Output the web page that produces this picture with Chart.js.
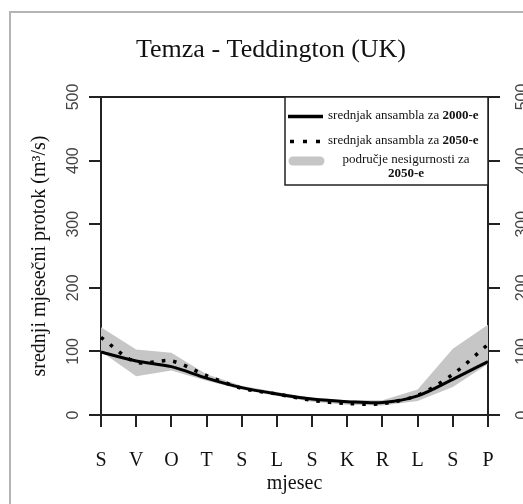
<!DOCTYPE html>
<html>
<head>
<meta charset="utf-8">
<script src="https://cdn.jsdelivr.net/npm/chart.js@4.4.0/dist/chart.umd.min.js"></script>
<style>
  html, body { margin: 0; padding: 0; background: #fff; }
</style>
</head>
<body>
<canvas id="chart" width="523" height="504"></canvas>
<script>
// mjeseci hidrološke godine (rujan - kolovoz)
const months = ['S', 'V', 'O', 'T', 'S', 'L', 'S', 'K', 'R', 'L', 'S', 'P'];
const mean2000 = [99, 85, 76, 58, 43, 33, 25, 21, 19.5, 30, 56, 84];
const mean2050 = [122, 83, 85, 62, 42, 33, 23, 18, 18, 31, 64, 111];
const bandUpper = [138, 103, 98, 64, 46, 36, 27, 23, 23, 40, 104, 142];
const bandLower = [100, 61, 70, 54, 40, 30, 21, 16, 15, 22, 44, 80];
const yMax = 500;
const yStep = 100;
const chartTitle = 'Temza - Teddington (UK)';

const serif = '"Liberation Serif", "Times New Roman", serif';
const sans = '"Liberation Sans", Arial, sans-serif';

// sivi okvir slike, naslov i gornja linija grafa
const framePlugin = {
  id: 'frame',
  beforeDraw(chart) {
    const ctx = chart.ctx;
    ctx.save();
    ctx.strokeStyle = '#b4b4b4';
    ctx.lineWidth = 2;
    ctx.beginPath();
    ctx.moveTo(10, chart.height);
    ctx.lineTo(10, 12);
    ctx.lineTo(chart.width, 12);
    ctx.stroke();

    ctx.fillStyle = '#111';
    ctx.font = '26px ' + serif;
    ctx.textAlign = 'center';
    ctx.textBaseline = 'alphabetic';
    ctx.fillText(chartTitle, 271, 57);
    ctx.restore();
  },
  afterDatasetsDraw(chart) {
    const {ctx, chartArea} = chart;
    ctx.save();
    ctx.strokeStyle = '#222';
    ctx.lineWidth = 2;
    ctx.beginPath();
    ctx.moveTo(chartArea.left, chartArea.top);
    ctx.lineTo(chartArea.right, chartArea.top);
    ctx.stroke();
    ctx.restore();
  }
};

// legenda u gornjem desnom kutu
const legendPlugin = {
  id: 'legendBox',
  afterDraw(chart) {
    const {ctx, chartArea} = chart;
    const left = 285, top = chartArea.top, right = chartArea.right, bottom = 185;
    ctx.save();
    ctx.fillStyle = '#fff';
    ctx.fillRect(left, top, right - left, bottom - top);
    ctx.strokeStyle = '#222';
    ctx.lineWidth = 1.5;
    ctx.strokeRect(left, top, right - left, bottom - top);

    ctx.strokeStyle = '#000';
    ctx.lineWidth = 3.5;
    ctx.beginPath();
    ctx.moveTo(288, 116.5);
    ctx.lineTo(323, 116.5);
    ctx.stroke();

    ctx.setLineDash([4, 9]);
    ctx.beginPath();
    ctx.moveTo(290, 141.5);
    ctx.lineTo(323, 141.5);
    ctx.stroke();
    ctx.setLineDash([]);

    ctx.strokeStyle = '#c6c6c6';
    ctx.lineWidth = 9;
    ctx.lineCap = 'round';
    ctx.beginPath();
    ctx.moveTo(293, 161);
    ctx.lineTo(320, 161);
    ctx.stroke();

    ctx.fillStyle = '#111';
    ctx.textBaseline = 'middle';
    const rows = [['srednjak ansambla za ', '2000-e', 115.5], ['srednjak ansambla za ', '2050-e', 140.5]];
    rows.forEach(([txt, bold, y]) => {
      ctx.font = '13px ' + serif;
      ctx.textAlign = 'left';
      ctx.fillText(txt, 328, y);
      const w = ctx.measureText(txt).width;
      ctx.font = 'bold 13px ' + serif;
      ctx.fillText(bold, 328 + w, y);
    });
    ctx.textAlign = 'center';
    ctx.font = '13px ' + serif;
    ctx.fillText('područje nesigurnosti za', 406, 159.5);
    ctx.font = 'bold 13px ' + serif;
    ctx.fillText('2050-e', 406, 173.5);
    ctx.restore();
  }
};

const yAxis = (position, width, pad) => ({
  position: position,
  min: 0,
  max: yMax,
  afterFit(scale) { scale.width = width; },
  ticks: {
    stepSize: yStep,
    minRotation: 90,
    maxRotation: 90,
    crossAlign: 'center',
    padding: pad,
    color: '#444',
    font: { family: sans, size: 16 }
  },
  grid: { drawOnChartArea: false, drawTicks: true, tickLength: 12, color: '#222', lineWidth: 2 },
  border: { display: true, color: '#222', width: 2 }
});

new Chart(document.getElementById('chart'), {
  type: 'line',
  data: {
    labels: months,
    datasets: [
      {
        label: 'srednjak ansambla za 2000-e',
        data: mean2000,
        borderColor: '#000',
        borderWidth: 3,
        pointRadius: 0,
        tension: 0.3,
        fill: false
      },
      {
        label: 'srednjak ansambla za 2050-e',
        data: mean2050,
        borderColor: '#000',
        borderWidth: 3.5,
        borderDash: [3.5, 8],
        pointRadius: 0,
        tension: 0.3,
        fill: false
      },
      {
        label: 'područje nesigurnosti za 2050-e',
        data: bandUpper,
        borderWidth: 0,
        borderColor: 'rgba(0,0,0,0)',
        backgroundColor: '#c6c6c6',
        pointRadius: 0,
        tension: 0,
        fill: '+1'
      },
      {
        label: 'donja granica',
        data: bandLower,
        borderWidth: 0,
        borderColor: 'rgba(0,0,0,0)',
        pointRadius: 0,
        tension: 0,
        fill: false
      }
    ]
  },
  options: {
    responsive: false,
    animation: false,
    layout: { padding: { top: 97, left: 0, right: 0, bottom: 0 } },
    plugins: {
      legend: { display: false },
      tooltip: { enabled: false },
      title: { display: false }
    },
    scales: {
      x: {
        offset: false,
        afterFit(scale) { scale.height = 89; },
        ticks: {
          autoSkip: false,
          maxRotation: 0,
          padding: 22,
          color: '#111',
          font: { family: serif, size: 20 }
        },
        grid: { drawOnChartArea: false, drawTicks: true, tickLength: 12, color: '#222', lineWidth: 2 },
        border: { display: true, color: '#222', width: 2 },
        title: {
          display: true,
          text: 'mjesec',
          color: '#111',
          font: { family: serif, size: 20 },
          padding: { top: 0, bottom: 8 }
        }
      },
      y: Object.assign(yAxis('left', 101, 2), {
        title: {
          display: true,
          text: 'srednji mjesečni protok (m³/s)',
          color: '#111',
          font: { family: serif, size: 20 },
          padding: { top: 28, bottom: 0 }
        }
      }),
      y2: yAxis('right', 35, 9)
    }
  },
  plugins: [framePlugin, legendPlugin]
});
</script>
</body>
</html>
